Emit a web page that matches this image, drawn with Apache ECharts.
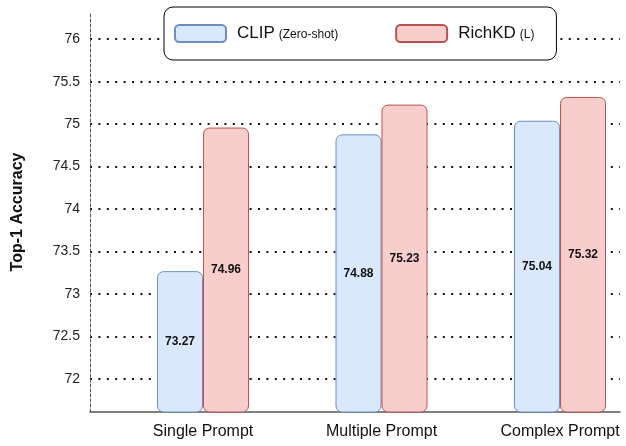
<!DOCTYPE html>
<html>
<head>
<meta charset="utf-8">
<script src="https://cdn.jsdelivr.net/npm/echarts@6/dist/echarts.min.js"></script>
<style>html,body{margin:0;padding:0;background:#fff}#c{width:626px;height:446px}</style>
</head>
<body>
<div id="c"></div>
<script>
var categories = ['Single Prompt', 'Multiple Prompt', 'Complex Prompt'];
var clipValues = [73.27, 74.88, 75.04];
var richkdValues = [74.96, 75.23, 75.32];
var yTicks = [72, 72.5, 73, 73.5, 74, 74.5, 75, 75.5, 76];
var xPositions = [0, 1, 2];

var chart = echarts.init(document.getElementById('c'), null, {renderer: 'canvas'});
var FONT = 'Liberation Sans, Arial, sans-serif';

function pts(vals) { return vals.map(function (v, i) { return [xPositions[i], v]; }); }

var labelOpt = {
  show: true, position: 'inside', color: '#111', fontWeight: 'bold', fontSize: 12, fontFamily: FONT,
  formatter: function (p) { return p.value[1].toFixed(2); }
};

chart.setOption({
  animation: false,
  textStyle: {fontFamily: FONT},
  grid: {left: 90, right: 6, top: 12, bottom: 34, containLabel: false},
  legend: {
    orient: 'horizontal',
    left: 164, top: 7,
    padding: [17, 22, 17, 10],
    backgroundColor: '#fff',
    borderColor: '#000', borderWidth: 1, borderRadius: 9,
    itemWidth: 51, itemHeight: 17, itemGap: 57,
    icon: 'roundRect',
    data: ['CLIP', 'RichKD'],
    formatter: function (n) {
      return n === 'CLIP' ? '{a|CLIP}{b|(Zero-shot)}' : '{a|RichKD}{b|(L)}';
    },
    textStyle: {
      rich: {
        a: {fontSize: 17, color: '#111', fontFamily: FONT, padding: [0, 0, 0, 6]},
        b: {fontSize: 12, color: '#111', fontFamily: FONT, padding: [2, 0, 0, 4]}
      }
    }
  },
  xAxis: {
    type: 'value',
    min: -0.633, max: 2.336,
    axisLine: {show: true, onZero: false, lineStyle: {color: '#555', width: 1.5}},
    axisTick: {show: false},
    splitLine: {show: false},
    axisLabel: {
      customValues: xPositions,
      color: '#111', fontSize: 16, margin: 12, fontFamily: FONT,
      formatter: function (v) { var i = xPositions.indexOf(v); return i >= 0 ? categories[i] : ''; }
    }
  },
  yAxis: {
    type: 'value',
    min: 71.612, max: 76.32,
    name: 'Top-1 Accuracy',
    nameLocation: 'middle', nameGap: 64, nameRotate: 90,
    nameTextStyle: {fontWeight: 'bold', fontSize: 16, color: '#111', fontFamily: FONT},
    axisLine: {show: true, onZero: false, lineStyle: {color: '#555', width: 1, type: [3, 2]}},
    axisTick: {show: false, customValues: yTicks},
    axisLabel: {customValues: yTicks, color: '#222', fontSize: 14, margin: 10, fontFamily: FONT,
      formatter: function (v) { return String(v); }},
    splitLine: {show: true, lineStyle: {color: '#111', width: 2, type: [2, 6.4]}}
  },
  series: [
    {
      name: 'CLIP', type: 'bar', barWidth: 46, barGap: '0%',
      data: pts(clipValues),
      itemStyle: {color: '#dae8fc', borderColor: '#6c8ebf', borderWidth: 1, borderRadius: 6},
      label: labelOpt
    },
    {
      name: 'RichKD', type: 'bar', barWidth: 46, barGap: '0%',
      data: pts(richkdValues),
      itemStyle: {color: '#f8cecc', borderColor: '#b85450', borderWidth: 1, borderRadius: 6},
      label: labelOpt
    }
  ]
});
</script>
</body>
</html>
